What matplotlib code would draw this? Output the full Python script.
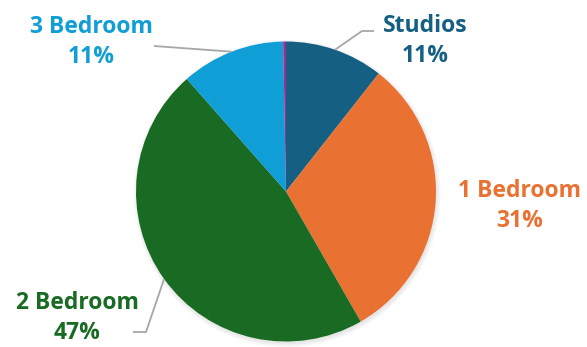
import numpy as np
import matplotlib
matplotlib.use("Agg")
import matplotlib.pyplot as plt

categories = ["Studios", "1 Bedroom", "2 Bedroom", "3 Bedroom", "Other"]
values = [10.6, 31.1, 46.8, 11.2, 0.3]
pct_labels = ["11%", "31%", "47%", "11%", None]
colors = ["#156082", "#E97132", "#196B24", "#0F9ED5", "#A02B93"]

W, H = 587, 347
fig = plt.figure(figsize=(W / 100, H / 100), dpi=100)
ax = fig.add_axes([0, 0, 1, 1])

cx, cy, R = 286, 347 - 191.5, 150

# soft shadow
for i in range(8):
    circ = plt.Circle((cx + 1, cy - 2), R + 4 - i * 0.6, color="black", alpha=0.012, lw=0, zorder=0)
    ax.add_patch(circ)

wedges, _ = ax.pie(values, colors=colors, startangle=90, counterclock=False,
                   center=(cx, cy), radius=R, frame=True,
                   wedgeprops=dict(linewidth=0, zorder=2))
ax.set_xlim(0, W)
ax.set_ylim(0, H)
ax.set_aspect("equal")
ax.axis("off")

font = "Open Sans"
# label positions (image pixel coords, y from top) and leader elbows
label_pos = {
    "Studios": (425, 41),
    "1 Bedroom": (520, 206),
    "2 Bedroom": (77, 318),
    "3 Bedroom": (91, 42),
}
elbows = {
    "Studios": [(374, 31), (362, 31)],
    "2 Bedroom": [(133, 332), (146, 332)],
    "3 Bedroom": [(154, 46)],
}

for w, cat, pct, col in zip(wedges, categories, pct_labels, colors):
    if pct is None:
        continue
    x, y = label_pos[cat]
    ax.text(x, H - y, f"{cat}\n{pct}", ha="center", va="center", color=col,
            fontsize=16.5, fontweight="bold", family=font, linespacing=1.38, zorder=5)
    if cat in elbows:
        mid = np.deg2rad((w.theta1 + w.theta2) / 2)
        ax_pt = (cx + R * np.cos(mid), cy + R * np.sin(mid))
        pts = [(px, H - py) for px, py in elbows[cat]] + [ax_pt]
        xs, ys = zip(*pts)
        ax.plot(xs, ys, color="#A6A6A6", lw=1.3, zorder=3, solid_capstyle="butt")

fig.savefig("out.png", dpi=100, facecolor="white")
